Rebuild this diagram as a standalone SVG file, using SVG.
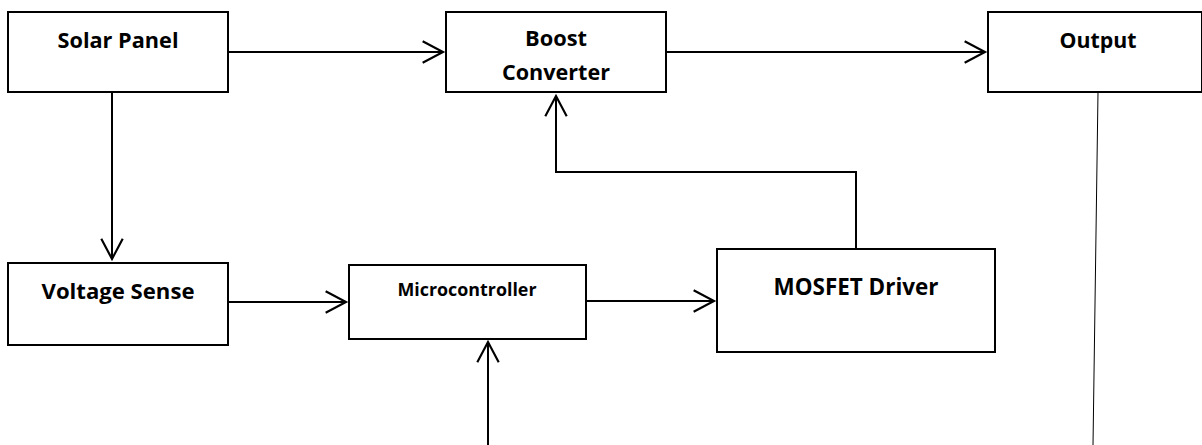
<svg xmlns="http://www.w3.org/2000/svg" width="1202" height="445" viewBox="0 0 1202 445">
<style>
.box{fill:#fff;stroke:#000;stroke-width:2}
.lbl{font-family:"Open Sans","Liberation Sans",sans-serif;font-weight:bold;fill:#000;text-anchor:middle}
.con{fill:none;stroke:#000;stroke-width:2}
.thin{fill:none;stroke:#000;stroke-width:1}
</style>
<defs>
<marker id="arr" markerUnits="userSpaceOnUse" markerWidth="30" markerHeight="30" viewBox="-24 -14 28 28" refX="0" refY="0" orient="auto" overflow="visible">
<path d="M-19,-10 L0,0 L-19,10" fill="none" stroke="#000" stroke-width="2"/>
</marker>
</defs>
<rect width="1202" height="445" fill="#fff"/>
<g id="connectors">
<line class="con" x1="228" y1="52" x2="443" y2="52" marker-end="url(#arr)"/>
<line class="con" x1="666" y1="52" x2="985" y2="52" marker-end="url(#arr)"/>
<line class="con" x1="112" y1="92" x2="112" y2="259" marker-end="url(#arr)"/>
<line class="con" x1="228" y1="302" x2="346" y2="302" marker-end="url(#arr)"/>
<line class="con" x1="586" y1="301" x2="714" y2="301" marker-end="url(#arr)"/>
<polyline class="con" points="856,249 856,172 556,172 556,96" marker-end="url(#arr)"/>
<line class="con" x1="488" y1="445" x2="488" y2="342" marker-end="url(#arr)"/>
<line class="thin" x1="1098" y1="92" x2="1093" y2="445"/>
</g>
<g id="solar-panel">
<rect class="box" x="8" y="12" width="220" height="80"/>
<text class="lbl" x="118" y="48" font-size="21" textLength="121" lengthAdjust="spacingAndGlyphs">Solar Panel</text>
</g>
<g id="boost-converter">
<rect class="box" x="446" y="12" width="220" height="80"/>
<text class="lbl" x="556" y="46" font-size="21" textLength="62" lengthAdjust="spacingAndGlyphs">Boost</text>
<text class="lbl" x="556" y="80" font-size="21" textLength="108" lengthAdjust="spacingAndGlyphs">Converter</text>
</g>
<g id="output">
<rect class="box" x="988" y="12" width="214" height="80"/>
<text class="lbl" x="1098" y="48" font-size="21" textLength="77" lengthAdjust="spacingAndGlyphs">Output</text>
</g>
<g id="voltage-sense">
<rect class="box" x="8" y="263" width="220" height="82"/>
<text class="lbl" x="118" y="299" font-size="21" textLength="153" lengthAdjust="spacingAndGlyphs">Voltage Sense</text>
</g>
<g id="microcontroller">
<rect class="box" x="349" y="265" width="237" height="74"/>
<text class="lbl" x="467" y="296" font-size="17" textLength="139" lengthAdjust="spacingAndGlyphs">Microcontroller</text>
</g>
<g id="mosfet-driver">
<rect class="box" x="717" y="249" width="278" height="103"/>
<text class="lbl" x="856" y="295" font-size="23" textLength="165" lengthAdjust="spacingAndGlyphs">MOSFET Driver</text>
</g>
</svg>
